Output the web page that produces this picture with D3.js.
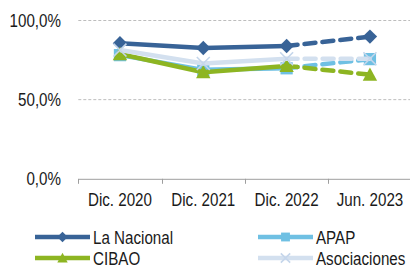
<!DOCTYPE html>
<html><head><meta charset="utf-8">
<script src="https://cdn.jsdelivr.net/npm/d3@7"></script>
<style>body{margin:0;background:#fff}svg{display:block}</style>
</head><body><svg id="c" width="410" height="273"></svg>
<script>
const categories = ["Dic. 2020","Dic. 2021","Dic. 2022","Jun. 2023"];
const seriesNames = ["La Nacional","APAP","CIBAO","Asociaciones"];
const laNacional = [85.3, 82.3, 83.6, 89.5];
const apap = [77.8, 68.5, 69.5, 75.3];
const cibao = [78.5, 67.0, 71.0, 65.5];
const asociaciones = [81.0, 72.5, 75.5, 75.5];
const yTicks = [0, 50, 100];
const colors = ["#386397","#6FC0E3","#8DB522","#D3E0EF"];
const markers = ["diamond","square","triangle","x"];
const allValues = [laNacional, apap, cibao, asociaciones];

const svg = d3.select("#c");
const x = d3.scaleBand().domain(categories).range([78.3, 411.6]);
const y = d3.scaleLinear().domain([0,100]).range([178.3, 20]);
const FONT = "Liberation Sans, Arial, sans-serif";
const SX = 0.82;

// gridlines
svg.append("g").selectAll("line").data(yTicks.filter(d=>d>0)).join("line")
  .attr("x1",78.3).attr("x2",410).attr("y1",d=>y(d)+0.5).attr("y2",d=>y(d)+0.5)
  .attr("stroke","#BDBDBD").attr("stroke-width",1).attr("stroke-dasharray","3,2");

// x axis
const xAxis = d3.axisBottom(x).tickSize(0).tickFormat("");
const gx = svg.append("g").attr("transform",`translate(0,${y(0)+0.5})`).call(xAxis);
gx.select(".domain").attr("stroke","#9E9E9E").attr("stroke-width",1);
const bounds = categories.map(c=>x(c)).concat([x.range()[1]]);
gx.selectAll(".bt").data(bounds).join("line").attr("class","bt")
  .attr("x1",d=>Math.round(d)+0.5).attr("x2",d=>Math.round(d)+0.5).attr("y1",0).attr("y2",5)
  .attr("stroke","#9E9E9E");

function stxt(g, tx, ty, str, anchor){
  g.append("text").attr("transform",`translate(${tx},${ty}) scale(${SX},1)`)
   .attr("text-anchor",anchor).attr("font-family",FONT).attr("font-size",18.5)
   .attr("fill","#1a1a1a").text(str);
}
const labels = svg.append("g");
categories.forEach(c=>stxt(labels, x(c)+x.bandwidth()/2, 206, c, "middle"));
const fmt = d=>d3.format(".1f")(d).replace(".",",")+"%";
yTicks.forEach(t=>stxt(labels, 61, y(t)+6.5, fmt(t), "end"));

function marker(g, type, cx, cy, s, color){
  if(type==="diamond"){
    g.append("path").attr("d",`M${cx},${cy-s}L${cx+s},${cy}L${cx},${cy+s}L${cx-s},${cy}Z`).attr("fill",color);
  } else if(type==="square"){
    g.append("rect").attr("x",cx-s*0.85).attr("y",cy-s*0.85).attr("width",s*1.7).attr("height",s*1.7).attr("fill",color);
  } else if(type==="triangle"){
    g.append("path").attr("d",`M${cx},${cy-s}L${cx+s},${cy+s*0.85}L${cx-s},${cy+s*0.85}Z`).attr("fill",color);
  } else {
    const k=s*0.9;
    g.append("path").attr("d",`M${cx-k},${cy-k}L${cx+k},${cy+k}M${cx-k},${cy+k}L${cx+k},${cy-k}`)
     .attr("stroke",color).attr("stroke-width",1.6).attr("fill","none");
  }
}

const cx = c=>x(c)+x.bandwidth()/2;
const line = d3.line().x(d=>cx(d.c)).y(d=>y(d.v));
allValues.forEach((vals,i)=>{
  const g = svg.append("g");
  const pts = categories.map((c,j)=>({c, v:vals[j]}));
  g.append("path").attr("d",line(pts.slice(0,3))).attr("fill","none")
   .attr("stroke",colors[i]).attr("stroke-width",4.5).attr("stroke-linejoin","round");
  g.append("path").attr("d",line(pts.slice(2,4))).attr("fill","none")
   .attr("stroke",colors[i]).attr("stroke-width",4.5).attr("stroke-dasharray","11,7")
   .attr("stroke-linecap","round");
  const mcol = i===3 ? "#C5D6EB" : colors[i];
  pts.forEach(p=>marker(g, markers[i], cx(p.c), y(p.v), 7.2, mcol));
});

// legend
const leg = svg.append("g");
const legPos = [[35,237],[258,237],[35,258],[258,258]];
seriesNames.forEach((n,i)=>{
  const [lx,ly]=legPos[i];
  leg.append("line").attr("x1",lx).attr("x2",lx+55).attr("y1",ly).attr("y2",ly)
    .attr("stroke",colors[i]).attr("stroke-width",4.5);
  marker(leg, markers[i], lx+27.5, ly, 5.2, i===3?"#C5D6EB":colors[i]);
  stxt(leg, lx+58, ly+6.5, n, "start");
});
</script></body></html>
